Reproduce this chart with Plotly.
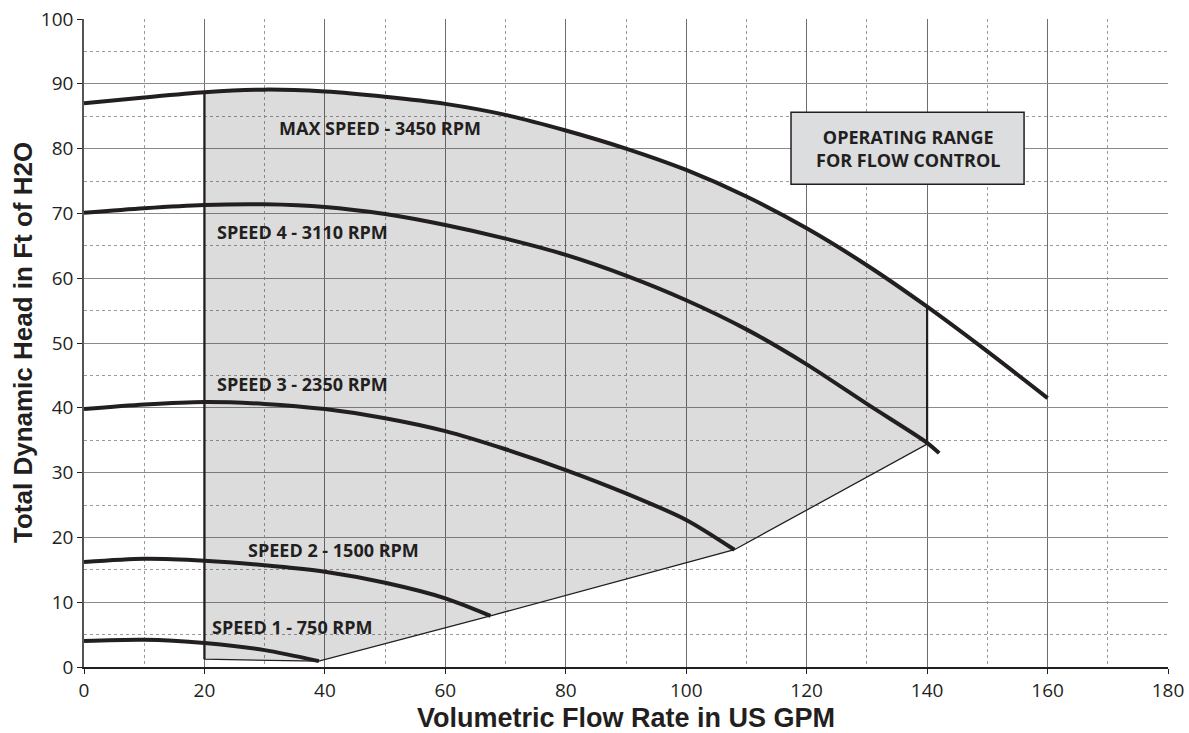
import plotly.graph_objects as go

# ---- data ----
flow_max = [0, 10, 20, 30, 40, 50, 60, 70, 80, 90, 100, 110, 120, 130, 140, 150, 160]
head_max = [87.0, 87.9, 88.7, 89.1, 88.8, 88.0, 86.9, 85.2, 82.8, 80.0, 76.7, 72.6, 67.7, 62.0, 55.6, 48.7, 41.5]

flow_s4 = [0, 10, 20, 30, 40, 50, 60, 70, 80, 90, 100, 110, 120, 130, 140, 142]
head_s4 = [70.1, 70.8, 71.3, 71.4, 71.0, 69.9, 68.2, 66.1, 63.6, 60.4, 56.6, 52.1, 46.7, 40.6, 34.6, 33.0]

flow_s3 = [0, 10, 20, 30, 40, 50, 60, 70, 80, 90, 100, 108]
head_s3 = [39.8, 40.5, 40.9, 40.6, 39.8, 38.4, 36.4, 33.6, 30.4, 26.8, 22.7, 18.1]

flow_s2 = [0, 10, 20, 30, 40, 50, 60, 67.5]
head_s2 = [16.2, 16.7, 16.4, 15.7, 14.7, 13.0, 10.6, 7.9]

flow_s1 = [0, 10, 20, 30, 39]
head_s1 = [4.0, 4.2, 3.7, 2.6, 0.9]

range_min_flow = 20
range_max_flow = 140
range_floor = 1.2

curve_labels = ["MAX SPEED - 3450 RPM", "SPEED 4 - 3110 RPM", "SPEED 3 - 2350 RPM",
                "SPEED 2 - 1500 RPM", "SPEED 1 - 750 RPM"]
label_x = [49.2, 21.8, 21.8, 26.9, 20.9]
label_y = [83.2, 67.1, 43.7, 18.1, 6.2]

box_text = "OPERATING RANGE<br>FOR FLOW CONTROL"
x_title = "Volumetric Flow Rate in US GPM"
y_title = "Total Dynamic Head in Ft of H2O"

# ---- build operating range polygon from curve data ----
top_x = [f for f in flow_max if range_min_flow <= f <= range_max_flow]
top_y = [h for f, h in zip(flow_max, head_max) if range_min_flow <= f <= range_max_flow]
ends_x = [flow_s4[-2], flow_s3[-1], flow_s2[-1], flow_s1[-1]]
ends_y = [34.4, head_s3[-1], head_s2[-1], head_s1[-1]]
poly_x = [range_min_flow] + top_x + ends_x + [range_min_flow]
poly_y = [range_floor] + top_y + ends_y + [range_floor]

INK = "#231f20"
fig = go.Figure()

fig.add_trace(go.Scatter(x=poly_x, y=poly_y, fill="toself", mode="lines",
                         fillcolor="rgba(40,35,45,0.16)", line=dict(color=INK, width=1.3),
                         hoverinfo="skip", showlegend=False))
fig.add_trace(go.Scatter(x=[range_min_flow, range_min_flow], y=[range_floor, head_max[2]],
                         mode="lines", line=dict(color=INK, width=2.2), showlegend=False))
fig.add_trace(go.Scatter(x=[range_max_flow, range_max_flow], y=[34.4, head_max[14]],
                         mode="lines", line=dict(color=INK, width=2.2), showlegend=False))

for fx, hy in [(flow_max, head_max), (flow_s4, head_s4), (flow_s3, head_s3),
               (flow_s2, head_s2), (flow_s1, head_s1)]:
    fig.add_trace(go.Scatter(x=fx, y=hy, mode="lines",
                             line=dict(color=INK, width=4, shape="spline", smoothing=0.8),
                             showlegend=False))

for t, lx, ly in zip(curve_labels, label_x, label_y):
    xa = "center" if t.startswith("MAX") else "left"
    fig.add_annotation(x=lx, y=ly, text=t, showarrow=False, xanchor=xa, yanchor="middle",
                       font=dict(family="Open Sans", size=18, color=INK, weight="bold"))

fig.add_shape(type="rect", x0=117.4, x1=156.1, y0=74.5, y1=85.6, xref="x", yref="y",
              fillcolor="#dcdddf", line=dict(color=INK, width=1.5))
fig.add_annotation(x=136.75, y=80.05, text=box_text, showarrow=False,
                   font=dict(family="Open Sans", size=18, color=INK, weight="bold"))

fig.add_annotation(x=0.5, y=0, xref="paper", yref="paper", yshift=-51, yanchor="middle",
                   text=x_title, showarrow=False,
                   font=dict(family="Liberation Sans", size=27, color=INK, weight="bold"))
fig.add_annotation(x=0, y=0.5, xref="paper", yref="paper", xshift=-61, xanchor="center",
                   textangle=-90, text=y_title, showarrow=False,
                   font=dict(family="Liberation Sans", size=26, color=INK, weight="bold"))

fig.update_xaxes(range=[0, 180], dtick=20, tick0=0, showgrid=True, gridcolor="#6d6d6d",
                 gridwidth=1, zeroline=False, showline=True, linecolor=INK, linewidth=1.5,
                 ticks="outside", ticklen=5, tickcolor=INK, automargin=False,
                 ticklabeloverflow="allow",
                 minor=dict(dtick=10, showgrid=True, gridcolor="#9a9a9a", griddash="dot"),
                 tickfont=dict(family="Open Sans", size=19, color=INK))
fig.update_yaxes(range=[0, 100], dtick=10, tick0=0, showgrid=True, gridcolor="#8a8a8a",
                 gridwidth=1, zeroline=False, showline=True, linecolor="#555", linewidth=1.5,
                 ticks="outside", ticklen=5, tickcolor=INK, automargin=False,
                 ticklabeloverflow="allow",
                 minor=dict(dtick=5, showgrid=True, gridcolor="#9a9a9a", griddash="dot"),
                 tickfont=dict(family="Open Sans", size=19, color=INK))

fig.update_layout(width=1189, height=733, margin=dict(l=84, r=21, t=19, b=66, autoexpand=False),
                  plot_bgcolor="white", paper_bgcolor="white")

fig.write_html("out.html", config={"displayModeBar": False},
               post_script="document.body.style.margin='0';document.body.style.overflow='hidden';")
